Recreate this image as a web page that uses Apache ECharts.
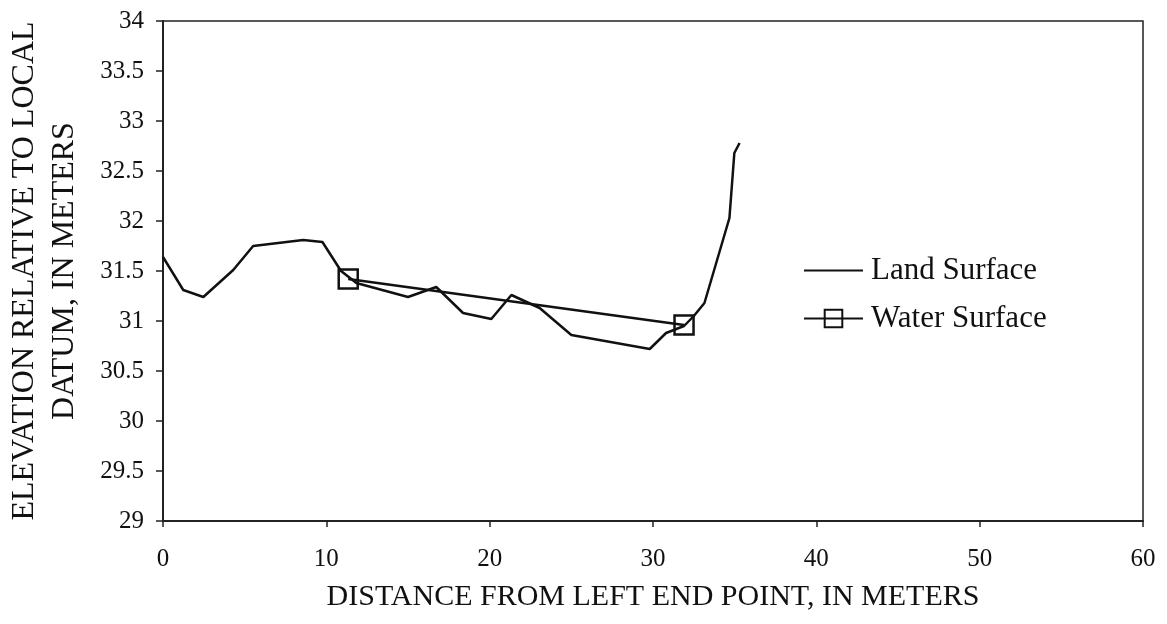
<!DOCTYPE html>
<html>
<head>
<meta charset="utf-8">
<script src="https://cdn.jsdelivr.net/npm/echarts@6/dist/echarts.min.js"></script>
<style>
html,body{margin:0;padding:0;background:#fff;}
#chart{width:1167px;height:624px;}
</style>
</head>
<body>
<div id="chart"></div>
<script>
// Land surface profile (distance m, elevation m)
const landDistance = [0, 1.24, 2.47, 4.3, 5.52, 8.58, 9.76, 10.9, 11.84, 15.0, 16.73, 18.37, 20.1, 21.33, 23.06, 25.0, 29.8, 30.8, 31.9, 32.5, 33.15, 34.68, 34.98, 35.3];
const landElevation = [31.64, 31.31, 31.24, 31.51, 31.75, 31.81, 31.79, 31.5, 31.38, 31.24, 31.34, 31.08, 31.02, 31.26, 31.13, 30.86, 30.72, 30.88, 30.95, 31.05, 31.18, 32.03, 32.68, 32.78];
// Water surface
const waterDistance = [11.34, 31.9];
const waterElevation = [31.42, 30.96];

const seriesNames = ['Land Surface', 'Water Surface'];
const xTitle = 'DISTANCE FROM LEFT END POINT, IN METERS';
const yTitle = 'ELEVATION RELATIVE TO LOCAL\nDATUM, IN METERS';

const FONT = "'Liberation Serif', 'Times New Roman', serif";

const chart = echarts.init(document.getElementById('chart'));
chart.setOption({
  animation: false,
  backgroundColor: '#ffffff',
  textStyle: { fontFamily: FONT, color: '#111' },
  grid: {
    left: 163, right: 24, top: 21, bottom: 103,
    outerBoundsMode: 'none', containLabel: false,
    show: true, borderColor: '#222', borderWidth: 1.5, backgroundColor: 'transparent'
  },
  legend: {
    orient: 'vertical',
    left: 798, top: 250,
    itemWidth: 59, itemHeight: 22, itemGap: 17,
    textStyle: { fontFamily: FONT, fontSize: 31, color: '#111', padding: [0, 0, 0, 3] },
    data: [
      { name: seriesNames[0], itemStyle: { opacity: 0 } },
      { name: seriesNames[1] }
    ]
  },
  xAxis: {
    type: 'value', min: 0, max: 60, interval: 10,
    name: xTitle, nameLocation: 'middle', nameGap: 61,
    nameTextStyle: { fontFamily: FONT, fontSize: 30, color: '#111' },
    axisLine: { show: true, onZero: false, lineStyle: { color: '#222', width: 2 } },
    axisTick: { show: true, inside: false, length: 6, lineStyle: { color: '#222', width: 1.5 } },
    axisLabel: { fontFamily: FONT, fontSize: 25, color: '#111', margin: 26 },
    splitLine: { show: false }
  },
  yAxis: {
    type: 'value', min: 29, max: 34, interval: 0.5,
    name: yTitle, nameLocation: 'middle', nameGap: 78, nameRotate: 90,
    nameTextStyle: { fontFamily: FONT, fontSize: 32, color: '#111', lineHeight: 40, align: 'center' },
    axisLine: { show: true, onZero: false, lineStyle: { color: '#222', width: 2 } },
    axisTick: { show: true, inside: false, length: 7, lineStyle: { color: '#222', width: 1.5 } },
    axisLabel: { fontFamily: FONT, fontSize: 25, color: '#111', margin: 19 },
    splitLine: { show: false }
  },
  series: [
    {
      name: seriesNames[0],
      type: 'line',
      data: landDistance.map((d, i) => [d, landElevation[i]]),
      symbol: 'none',
      lineStyle: { color: '#111', width: 2.5 },
      itemStyle: { color: '#111' },
      z: 2
    },
    {
      name: seriesNames[1],
      type: 'line',
      data: waterDistance.map((d, i) => [d, waterElevation[i]]),
      symbol: 'rect',
      symbolSize: 19,
      lineStyle: { color: '#111', width: 2.5 },
      itemStyle: { color: 'rgba(255,255,255,0)', borderColor: '#111', borderWidth: 2.5 },
      z: 3
    }
  ]
});
</script>
</body>
</html>
